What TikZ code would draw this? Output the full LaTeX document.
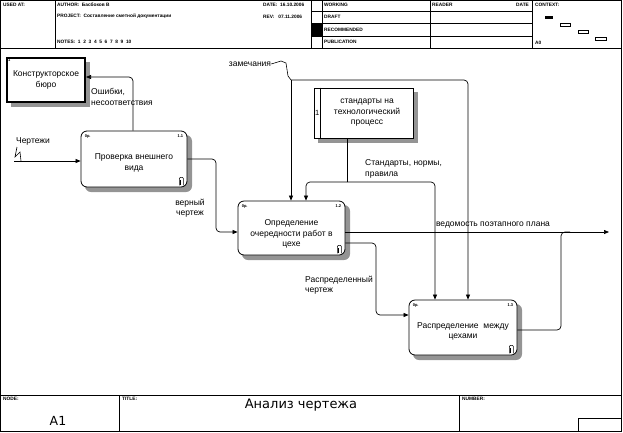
\documentclass[tikz,border=0pt]{standalone}
\usepackage{fontspec}
\setmainfont{Liberation Sans}
\newfontfamily\footfont{DejaVu Sans}
\usetikzlibrary{arrows.meta}
\begin{document}
\begin{tikzpicture}[x=1pt,y=-1pt,
  lbl/.style={font=\fontsize{8.5}{10.5}\selectfont, align=center, inner sep=0pt},
  hdr/.style={font=\fontsize{4.8}{5}\selectfont\bfseries, anchor=west, inner sep=0pt},
  tiny/.style={font=\fontsize{4}{4}\selectfont\bfseries, inner sep=0pt},
  act/.style={draw, rounded corners=6pt, fill=white, line width=0.8pt, inner sep=0pt},
  sqbox/.style={draw, fill=white, inner sep=0pt},
  shd/.style={fill=black!42, draw=none},
  ln/.style={line width=0.7pt},
  arr/.style={-{Triangle[length=5pt,width=4pt]}, line width=0.7pt},
  frame/.style={line width=0.6pt}
]
\useasboundingbox (0,0) rectangle (623,432);

% ---------- header ----------
\draw[frame] (0.5,0.5) rectangle (621.5,48);
\foreach \x in {55,311,322,430,532} \draw[frame] (\x,0.5) -- (\x,48);
\foreach \y in {11,23,36} \draw[frame] (311,\y) -- (532,\y);
\fill (311,23) rectangle (322,36);
\node[hdr] (h1) at (3,5) {USED AT:};
\node[hdr] (h2) at (57,5) {AUTHOR:\ \ Басбоков В};
\node[hdr] (h3) at (263,5) {DATE:\ \ 16.10.2006};
\node[hdr] (h4) at (57,16.5) {PROJECT:\ \ Составление сметной документации};
\node[hdr] (h5) at (263,16.5) {REV:\ \ \ 07.11.2006};
\node[hdr] (h6) at (57,42) {NOTES:\ \ 1\ \ 2\ \ 3\ \ 4\ \ 5\ \ 6\ \ 7\ \ 8\ \ 9\ \ 10};
\node[hdr] (h7) at (324,5) {WORKING};
\node[hdr] (h8) at (324,17) {DRAFT};
\node[hdr] (h9) at (324,29.5) {RECOMMENDED};
\node[hdr] (h10) at (324,42) {PUBLICATION};
\node[hdr] (h11) at (432,5) {READER};
\node[hdr] (h12) at (516,5) {DATE};
\node[hdr] (h13) at (535,5) {CONTEXT:};
\node[hdr] (h14) at (535,43) {A0};
\fill (545,16) rectangle (553,19);
\draw[line width=0.5pt] (560,23) rectangle (570,26);
\draw[line width=0.5pt] (578,30.5) rectangle (588,33.5);
\draw[line width=0.5pt] (595,37) rectangle (606,40);

% ---------- frame ----------
\draw[frame] (0.5,48) -- (0.5,395);
\draw[frame] (621.5,48) -- (621.5,395);

% ---------- footer ----------
\draw[frame] (0.5,395) rectangle (621.5,431);
\draw[frame] (119,395) -- (119,431);
\draw[frame] (459,395) -- (459,431);
\draw[frame] (578,418) rectangle (621.5,431);
\node[hdr] (f1) at (3,399) {NODE:};
\node[hdr] (f2) at (122,399) {TITLE:};
\node[hdr] (f3) at (462,399) {NUMBER:};
\node[font=\footfont\fontsize{12.5}{12.5}\selectfont, inner sep=0pt] (f4) at (58,421) {A1};
\node[font=\footfont\fontsize{13}{13}\selectfont, inner sep=0pt] (f5) at (301,405) {Анализ чертежа};

% ---------- shadows ----------
\fill[shd] (11,62) rectangle (90,107);
\fill[shd, rounded corners=6pt] (85,135) rectangle (192,192);
\fill[shd, rounded corners=6pt] (242,205) rectangle (350,260);
\fill[shd, rounded corners=6pt] (413,304) rectangle (522,360);
\fill[shd] (318,92) rectangle (418,143);

% ---------- boxes ----------
\node[sqbox, line width=2pt, minimum width=78pt, minimum height=44pt,
      label={[lbl]center:Конструкторское\\бюро}] (kb) at (46,80) {};
\node[tiny, anchor=north west] (kbn) at ([shift={(2,2)}]kb.north west) {1};

\node[sqbox, line width=0.8pt, minimum width=99pt, minimum height=50pt,
      label={[lbl, xshift=3.5pt]center:стандарты на\\технологический\\процесс}] (tb) at (363.5,113) {};
\draw[line width=0.8pt] ([xshift=7pt]tb.north west) -- ([xshift=7pt]tb.south west);
\node[lbl, font=\fontsize{7.5}{8}\selectfont] (tbn) at ([xshift=3.5pt]tb.west) {1};

\node[act, minimum width=106pt, minimum height=56pt,
      label={[lbl, yshift=-4pt]center:Проверка внешнего\\вида}] (b1) at (134,159) {};
\node[act, minimum width=107pt, minimum height=54pt,
      label={[lbl, yshift=-6pt]center:Определение\\очередности работ в\\цехе}] (b2) at (291.5,228) {};
\node[act, minimum width=108pt, minimum height=55pt,
      label={[lbl, yshift=-4pt]center:Распределение\ \ между\\цехами}] (b3) at (463,327.5) {};

\foreach \b/\n in {b1/1.1, b2/1.2, b3/1.3}{
  \node[tiny, anchor=north west] at ([shift={(4,4)}]\b.north west) {0р.};
  \node[tiny, anchor=north east] at ([shift={(-4,4)}]\b.north east) {\n};
  \draw[line width=0.6pt, rounded corners=1pt] ([shift={(-8,-2)}]\b.south east) -- ++(0,-8) -- ++(4,0) -- ++(0,8);
  \draw[line width=0.5pt] ([shift={(-7,-2)}]\b.south east) -- ++(0,-5);
}

% ---------- connectors ----------
% Чертежи
\coordinate (chin) at (14,161);
\draw[arr] (chin) -- (b1.west |- chin);
\draw[line width=0.6pt] (17,147) -- (15,157) -- (20,152) -- (21,161);
\node[lbl] (lch) at (33,141) {Чертежи};

% Ошибки
\coordinate (errc) at (133,77);
\draw[arr, rounded corners=4pt] (b1.north -| errc) -- (errc) -- (kb.east |- errc);
\node[lbl, anchor=west, align=left] (lerr) at (91,97) {Ошибки,\\несоответствия};

% верный чертеж
\coordinate (v1a) at (216,159);
\coordinate (v1b) at (216,232);
\draw[arr, rounded corners=4pt] (b1.east |- v1a) -- (v1a) -- (v1b) -- (b2.west |- v1b);
\node[lbl] (lver) at (190,208) {верный\\чертеж};

% замечания
\node[lbl] (lzam) at (250,64) {замечания};
\coordinate (zj) at (291,80);
\coordinate (zr) at (468,80);
\draw[line width=0.6pt] (lzam.east) -- (281,61) -- (286,63) -- (288,76) -- (zj);
\draw[arr] (zj) -- (b2.north -| zj);
\draw[arr, rounded corners=4pt] (zj) -- (zr) -- (b3.north -| zr);

% Стандарты, нормы, правила
\coordinate (sj) at (347,182);
\coordinate (sl) at (306,182);
\coordinate (sr) at (435,182);
\draw[ln] (tb.south -| sj) -- (sj);
\draw[arr, rounded corners=4pt] (sj) -- (sl) -- (b2.north -| sl);
\draw[arr, rounded corners=4pt] (sj) -- (sr) -- (b3.north -| sr);
\node[lbl, anchor=west, align=left] (lstd) at (365,169) {Стандарты, нормы,\\правила};

% ведомость поэтапного плана
\coordinate (vedend) at (609,232);
\draw[arr] (b2.east |- vedend) -- (vedend);
\node[lbl] (lved) at (493,225) {ведомость поэтапного плана};
\coordinate (o3a) at (561,330);
\coordinate (o3b) at (561,232);
\coordinate (o3c) at (570,232);
\draw[ln, rounded corners=4pt] (b3.east |- o3a) -- (o3a) -- (o3b) -- (o3c);

% Распределенный чертеж
\coordinate (r1a) at (376,243);
\coordinate (r1b) at (376,315);
\draw[arr, rounded corners=4pt] (b2.east |- r1a) -- (r1a) -- (r1b) -- (b3.west |- r1b);
\node[lbl, anchor=west, align=left] (lras) at (305,285) {Распределенный\\чертеж};
\end{tikzpicture}
\end{document}
